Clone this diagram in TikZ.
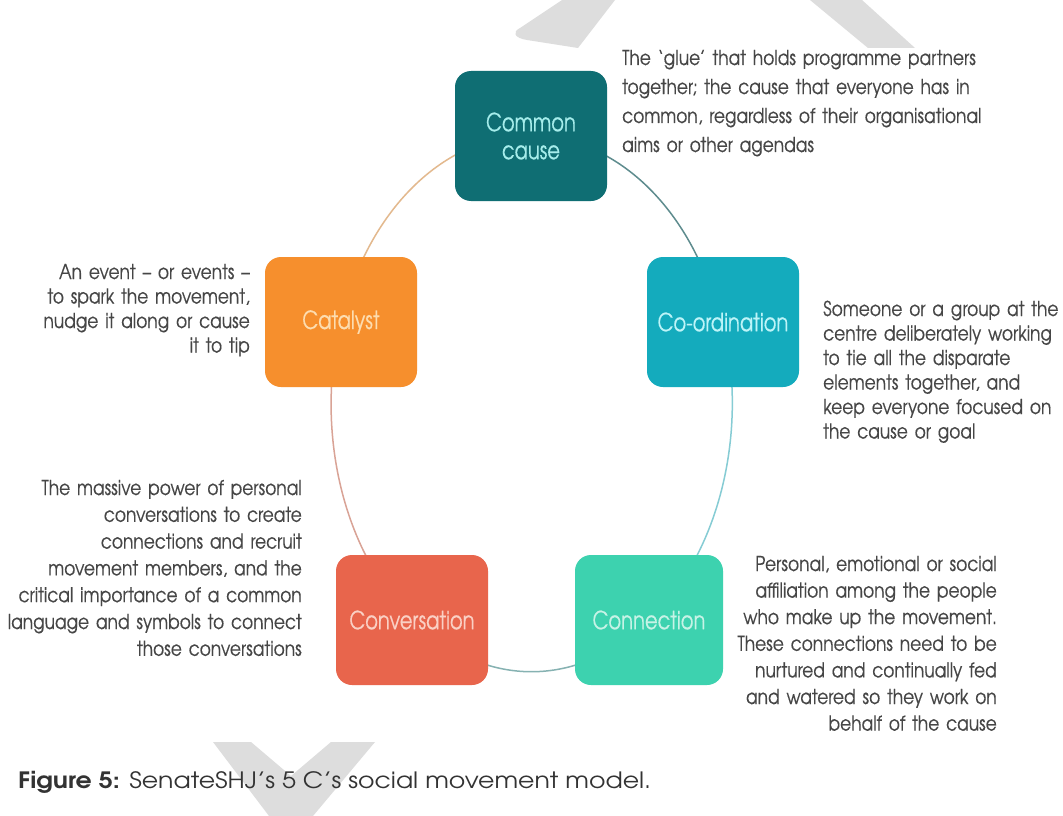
\documentclass[tikz,border=0pt]{standalone}
\usepackage{fontspec}
\usetikzlibrary{backgrounds}
\newfontfamily\descfont{texgyreadventor-regular.otf}[FakeStretch=0.83,WordSpace=0.6,FakeBold=0.3]
\newfontfamily\labfont{texgyreadventor-regular.otf}[FakeStretch=0.78,FakeBold=0.3]
\newfontfamily\capfont{texgyreadventor-regular.otf}[FakeStretch=1.12,BoldFont=texgyreadventor-bold.otf]
\definecolor{ccfill}{HTML}{0F6E73}
\definecolor{cofill}{HTML}{14ABBD}
\definecolor{cafill}{HTML}{F68F2D}
\definecolor{cvfill}{HTML}{E8654C}
\definecolor{cnfill}{HTML}{3DD2AF}
\definecolor{cctext}{HTML}{A6EDEB}
\definecolor{cotext}{HTML}{BDF4F8}
\definecolor{catext}{HTML}{FDDDB0}
\definecolor{cvtext}{HTML}{FAD0C4}
\definecolor{cntext}{HTML}{C6F3E6}
\definecolor{descgray}{HTML}{464646}
\definecolor{capgray}{HTML}{333333}
\definecolor{arcA}{HTML}{5E8C8E}
\definecolor{arcB}{HTML}{86CCD4}
\definecolor{arcC}{HTML}{86B2B2}
\definecolor{arcD}{HTML}{D9A396}
\definecolor{arcE}{HTML}{E3B98E}
\definecolor{wmark}{HTML}{DDDDDD}
\begin{document}
\begin{tikzpicture}[x=1pt,y=-1pt,
  cbox/.style={rectangle, rounded corners=16pt, minimum width=152pt, minimum height=130pt,
    inner sep=0pt, align=center, font=\labfont\fontsize{25}{28}\selectfont},
  desc/.style={inner sep=0pt, text width=420pt, text=descgray},
  ring/.style={line width=1.5pt}
]
\useasboundingbox (0,0) rectangle (1063,816);
% boxes
\node[cbox, fill=ccfill, text=cctext] (cc) at (531,136) {Common\\cause};
\node[cbox, fill=cafill, text=catext] (ca) at (341,322) {Catalyst};
\node[cbox, fill=cofill, text=cotext] (co) at (723,322) {Co-ordination};
\node[cbox, fill=cvfill, text=cvtext] (cv) at (412,620) {Conversation};
\node[cbox, fill=cnfill, text=cntext, minimum width=148pt] (cn) at (649,620) {Connection};
\begin{scope}[on background layer]
  \fill[white] (0,0) rectangle (1063,816);
  % watermark shapes
  \fill[wmark] (578,48) -- (527,40) .. controls (514,38) and (512,32) .. (520,28) -- (562,0)
    -- (615,0) -- cycle;
  \fill[wmark] (810,0) -- (862,0) -- (915,48) -- (868,48) -- cycle;
  \fill[wmark] (213,742) -- (251,742) -- (291,776) -- (331,742) -- (375,742) -- (313,816)
    -- (269,816) -- cycle;
  % ring arcs
  \draw[ring, arcA] (cc.center) arc[start angle=270, end angle=342.4, x radius=199, y radius=268];
  \draw[ring, arcB] (co.center) arc[start angle=342.4, end angle=413.8, x radius=199, y radius=268];
  \draw[ring, arcC] (cn.center) arc[start angle=53.8, end angle=126.4, x radius=199, y radius=268];
  \draw[ring, arcD] (cv.center) arc[start angle=126.4, end angle=197.6, x radius=199, y radius=268];
  \draw[ring, arcE] (ca.center) arc[start angle=197.6, end angle=270, x radius=199, y radius=268];
\end{scope}
% descriptions
\node[desc, anchor=base west, align=left, font=\descfont\fontsize{20.5}{29}\selectfont] (tcc) at (622,65)
  {The ‘glue’ that holds programme partners\\together; the cause that everyone has in\\common, regardless of their organisational\\aims or other agendas};
\node[desc, anchor=base east, align=right, font=\descfont\fontsize{20.5}{24.5}\selectfont] (tca) at (250,279)
  {An event – or events –\\to spark the movement,\\nudge it along or cause\\it to tip};
\node[desc, anchor=base west, align=left, font=\descfont\fontsize{20.5}{24.5}\selectfont] (tco) at (823,316)
  {Someone or a group at the\\centre deliberately working\\to tie all the disparate\\elements together, and\\keep everyone focused on\\the cause or goal};
\node[desc, anchor=base east, align=right, font=\descfont\fontsize{20.5}{26.8}\selectfont] (tcv) at (302,495)
  {The massive power of personal\\conversations to create\\connections and recruit\\movement members, and the\\critical importance of a common\\language and symbols to connect\\those conversations};
\node[desc, anchor=base east, align=right, font=\descfont\fontsize{20.5}{26.6}\selectfont] (tcn) at (997,571)
  {Personal, emotional or social\\affiliation among the people\\who make up the movement.\\These connections need to be\\nurtured and continually fed\\and watered so they work on\\behalf of the cause};
% caption
\node[anchor=base west, inner sep=0pt, text=capgray, font=\capfont\fontsize{22.5}{26}\selectfont] (cap) at (18,788)
  {\textbf{Figure 5:} SenateSHJ’s 5 C’s social movement model.};
\end{tikzpicture}
\end{document}
